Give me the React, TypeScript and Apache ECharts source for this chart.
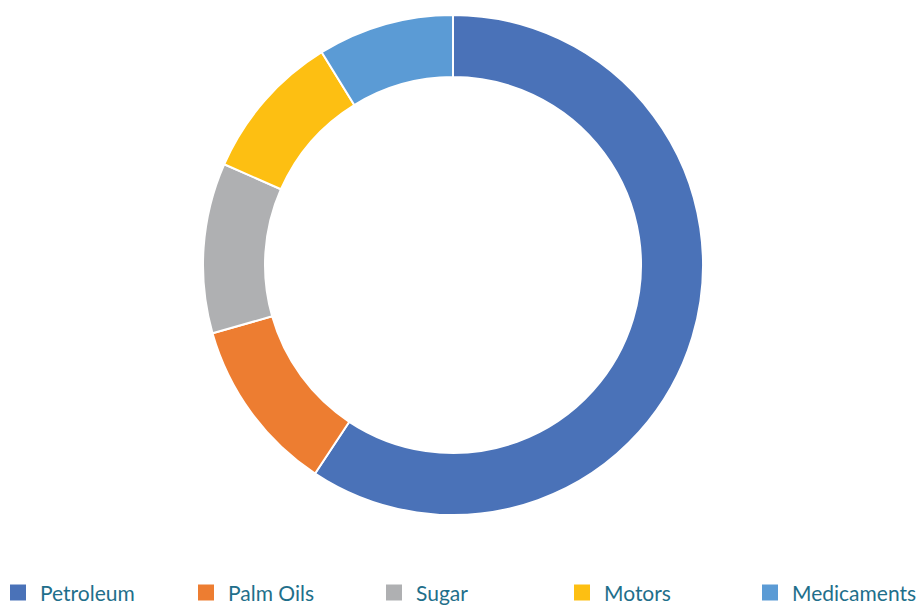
import React, { useEffect, useRef } from "react";
import * as echarts from "echarts";

const categories = ["Petroleum", "Palm Oils", "Sugar", "Motors", "Medicaments"];
const values = [59.3, 11.3, 11.0, 9.6, 8.8];
const colors = ["#4A72B8", "#ED7D31", "#AFB0B2", "#FDBF12", "#5B9BD5"];
const legendLefts = [10, 198, 386, 574, 762];

export default function App() {
  const ref = useRef<HTMLDivElement>(null);
  useEffect(() => {
    if (!ref.current) return;
    const chart = echarts.init(ref.current, undefined, { renderer: "svg" });
    chart.setOption({
      animation: false,
      color: colors,
      legend: categories.map((c, i) => ({
        data: [c],
        left: legendLefts[i],
        top: 582,
        itemWidth: 16,
        itemHeight: 16,
        icon: "rect",
        itemGap: 0,
        padding: 0,
        itemStyle: { borderWidth: 0 },
        textStyle: {
          color: "#1F6F8B",
          fontSize: 21,
          fontFamily: "Lato",
          padding: [0, 0, 0, 9],
        },
      })),
      series: [
        {
          type: "pie",
          center: [453, 265],
          radius: [188, 250],
          startAngle: 90,
          clockwise: true,
          label: { show: false },
          labelLine: { show: false },
          emphasis: { disabled: true },
          itemStyle: { borderColor: "#ffffff", borderWidth: 2 },
          data: categories.map((c, i) => ({ name: c, value: values[i] })),
        },
      ],
    });
    return () => chart.dispose();
  }, []);
  return (
    <div
      ref={ref}
      style={{ position: "fixed", left: 0, top: 0, width: 924, height: 606, background: "#fff" }}
    />
  );
}
